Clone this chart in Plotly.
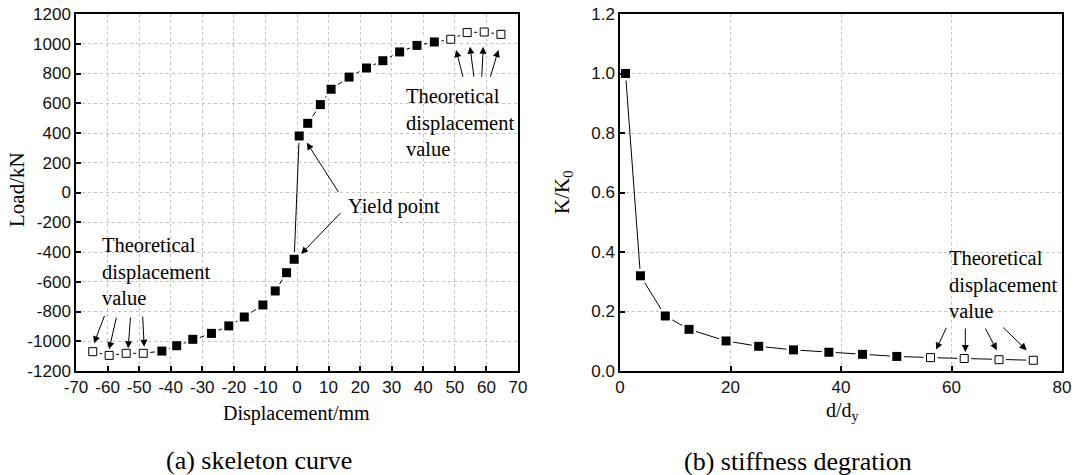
import plotly.graph_objects as go

# ---------------- data ----------------
# (a) skeleton curve
theo_neg_disp = [-64.7, -59.5, -54.1, -48.7]
theo_neg_load = [-1070, -1095, -1081, -1081]
exp_disp = [-42.8, -38.1, -33.0, -27.1, -21.6, -16.7, -10.8, -6.9, -3.3, -0.9,
            0.7, 3.4, 7.4, 10.8, 16.5, 22.0, 27.2, 32.5, 38.0, 43.5]
exp_load = [-1066, -1030, -987, -947, -897, -837, -756, -662, -539, -449,
            380, 465, 591, 694, 776, 837, 886, 945, 989, 1012]
theo_pos_disp = [48.7, 53.9, 59.3, 64.6]
theo_pos_load = [1030, 1075, 1079, 1063]

# (b) stiffness degradation
dr_exp = [1.0, 3.7, 8.2, 12.5, 19.2, 25.1, 31.4, 37.8, 43.9, 50.1]
k_exp = [1.0, 0.32, 0.185, 0.14, 0.101, 0.083, 0.071, 0.063, 0.056, 0.049]
dr_theo = [56.2, 62.3, 68.6, 74.8]
k_theo = [0.045, 0.042, 0.038, 0.036]

x_ticks_a = list(range(-70, 71, 10))
y_ticks_a = list(range(-1200, 1201, 200))
x_ticks_b = [0, 20, 40, 60, 80]
y_ticks_b = [0.0, 0.2, 0.4, 0.6, 0.8, 1.0, 1.2]

W, H = 1075, 475
SERIF = "Liberation Serif, Times New Roman, serif"
SANS = "Liberation Sans, Arial, sans-serif"


def px(x):
    return x / W


def py(y):
    return 1 - y / H


fig = go.Figure()

all_disp = theo_neg_disp + exp_disp + theo_pos_disp
all_load = theo_neg_load + exp_load + theo_pos_load
all_dr = dr_exp + dr_theo
all_k = k_exp + k_theo


def add_series(xa, ya, x_all, y_all, x_f, y_f, x_h, y_h):
    fig.add_trace(go.Scatter(x=x_all, y=y_all, mode="lines", xaxis=xa, yaxis=ya,
                             line=dict(color="black", width=1), showlegend=False,
                             hoverinfo="skip"))
    fig.add_trace(go.Scatter(x=x_all, y=y_all, mode="markers", xaxis=xa, yaxis=ya,
                             marker=dict(symbol="square", size=14, color="white",
                                         line=dict(width=0)),
                             showlegend=False, hoverinfo="skip"))
    fig.add_trace(go.Scatter(x=x_f, y=y_f, mode="markers", xaxis=xa, yaxis=ya,
                             marker=dict(symbol="square", size=9, color="black",
                                         line=dict(width=0)),
                             showlegend=False))
    fig.add_trace(go.Scatter(x=x_h, y=y_h, mode="markers", xaxis=xa, yaxis=ya,
                             marker=dict(symbol="square", size=8, color="white",
                                         line=dict(width=1, color="black")),
                             showlegend=False))


add_series("x", "y", all_disp, all_load, exp_disp, exp_load,
           theo_neg_disp + theo_pos_disp, theo_neg_load + theo_pos_load)
add_series("x2", "y2", all_dr, all_k, dr_exp, k_exp, dr_theo, k_theo)

axis_common = dict(
    showline=True, mirror=True, linecolor="black", linewidth=1.5,
    ticks="inside", ticklen=5, tickwidth=1.5, tickcolor="black",
    showgrid=True, gridcolor="#c4c4c4", griddash="dot", gridwidth=1,
    zeroline=False, automargin=False,
    tickfont=dict(family=SANS, size=17, color="#111111"),
)

fig.update_layout(
    template="none",
    width=W, height=H, margin=dict(l=0, r=0, t=0, b=0, pad=0, autoexpand=False),
    plot_bgcolor="white", paper_bgcolor="white",
    xaxis=dict(domain=[px(76), px(518)], range=[-70, 70], tickvals=x_ticks_a,
               ticktext=[str(v) for v in x_ticks_a],
               anchor="y", **axis_common),
    yaxis=dict(domain=[py(371), py(14)], range=[-1200, 1200], tickvals=y_ticks_a,
               ticktext=[str(v) for v in y_ticks_a],
               anchor="x", **axis_common),
    xaxis2=dict(domain=[px(620), px(1062)], range=[0, 80], tickvals=x_ticks_b,
                ticktext=[str(v) for v in x_ticks_b],
                anchor="y2", **axis_common),
    yaxis2=dict(domain=[py(371), py(14)], range=[0, 1.2], tickvals=y_ticks_b,
                ticktext=[f"{v:.1f}" for v in y_ticks_b], anchor="x2", **axis_common),
)

ann = []

# arrows (head x,y ; tail ax,ay) in data coordinates
arrows_a = [
    (50.4, 958, 52.7, 768), (54.8, 980, 56.1, 768),
    (59.0, 980, 58.5, 768), (63.8, 958, 61.1, 768),
    (3.1, 335, 13.4, -5), (1.3, -413, 14.2, -129),
    (-64.3, -1014, -60.8, -819), (-59.5, -1054, -57.1, -830),
    (-53.5, -1047, -52.7, -830), (-48.4, -1037, -48.9, -824),
]
arrows_b = [
    (57.2, 0.072, 59.2, 0.150), (62.5, 0.064, 62.5, 0.148),
    (68.2, 0.070, 66.0, 0.148), (73.6, 0.070, 69.1, 0.151),
]
for (hx, hy, tx, ty) in arrows_a:
    ann.append(dict(x=hx, y=hy, ax=tx, ay=ty, xref="x", yref="y", axref="x", ayref="y",
                    text="", showarrow=True, arrowhead=2, arrowsize=1.4,
                    arrowwidth=1, arrowcolor="black"))
for (hx, hy, tx, ty) in arrows_b:
    ann.append(dict(x=hx, y=hy, ax=tx, ay=ty, xref="x2", yref="y2", axref="x2", ayref="y2",
                    text="", showarrow=True, arrowhead=2, arrowsize=1.4,
                    arrowwidth=1, arrowcolor="black"))

theo_txt = "Theoretical<br>displacement<br>value"
for (lx, cy) in [(404, 123), (100, 271.5), (947, 284)]:
    ann.append(dict(x=px(lx), y=py(cy), xref="paper", yref="paper", text=theo_txt,
                    showarrow=False, xanchor="left", yanchor="middle", align="left",
                    font=dict(family=SERIF, size=20.5, color="black")))
ann.append(dict(x=px(346), y=py(206.5), xref="paper", yref="paper", text="Yield point",
                showarrow=False, xanchor="left", yanchor="middle",
                font=dict(family=SERIF, size=20.5, color="black")))

# axis titles
ann.append(dict(x=px(296), y=py(413), xref="paper", yref="paper", text="Displacement/mm",
                showarrow=False, xanchor="center", yanchor="middle",
                font=dict(family=SERIF, size=20, color="black")))
ann.append(dict(x=px(842), y=py(411), xref="paper", yref="paper", text="d/d<sub>y</sub>",
                showarrow=False, xanchor="center", yanchor="middle",
                font=dict(family=SERIF, size=20, color="black")))
ann.append(dict(x=px(17), y=py(190), xref="paper", yref="paper", text="Load/kN",
                showarrow=False, xanchor="center", yanchor="middle", textangle=-90,
                font=dict(family=SERIF, size=21, color="black")))
ann.append(dict(x=px(563), y=py(192), xref="paper", yref="paper", text="K/K<sub>0</sub>",
                showarrow=False, xanchor="center", yanchor="middle", textangle=-90,
                font=dict(family=SERIF, size=21, color="black")))

# captions
ann.append(dict(x=px(259), y=py(460), xref="paper", yref="paper", text="(a) skeleton curve",
                showarrow=False, xanchor="center", yanchor="middle",
                font=dict(family=SERIF, size=26, color="black")))
ann.append(dict(x=px(798), y=py(461), xref="paper", yref="paper", text="(b) stiffness degration",
                showarrow=False, xanchor="center", yanchor="middle",
                font=dict(family=SERIF, size=26, color="black")))

fig.update_layout(annotations=ann)

fig.write_html(
    "out.html",
    config={"displayModeBar": False},
    post_script="document.body.style.margin='0';document.body.style.overflow='hidden';",
)
